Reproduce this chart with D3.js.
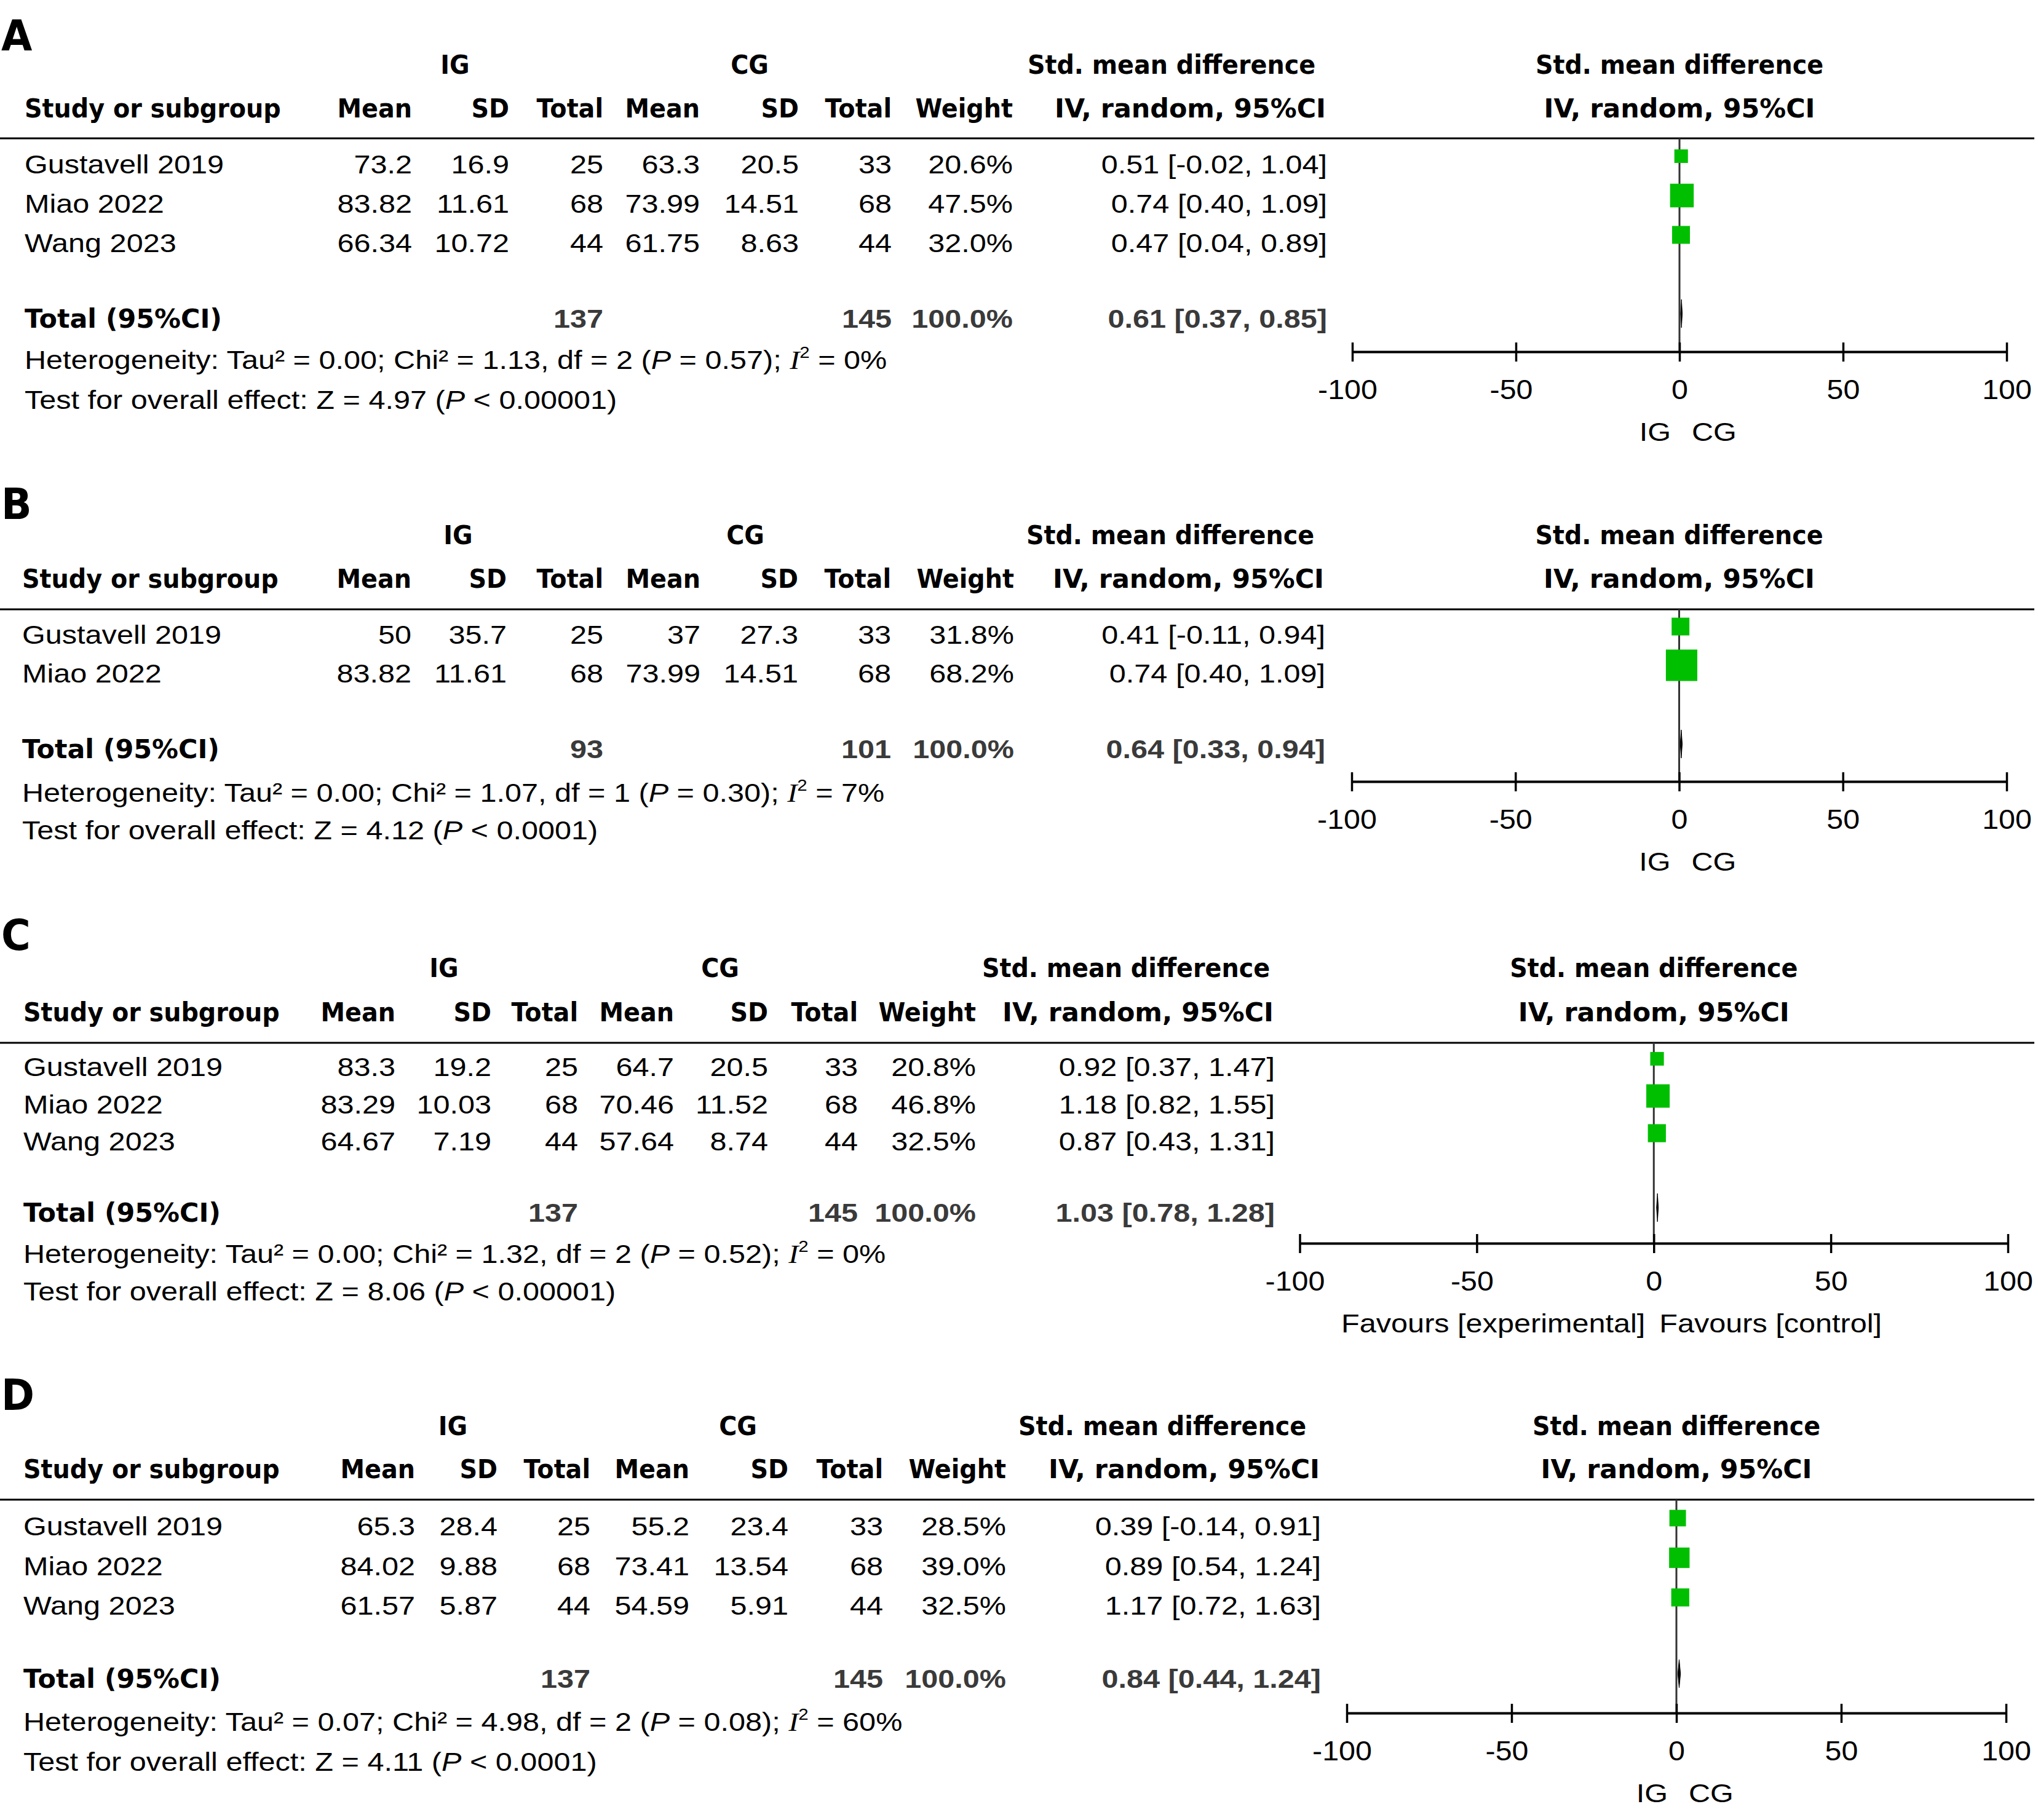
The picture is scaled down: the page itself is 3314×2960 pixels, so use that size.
<!DOCTYPE html>
<html><head><meta charset="utf-8">
<script src="https://cdn.jsdelivr.net/npm/d3@7"></script>
<style>html,body{margin:0;padding:0;background:#fff}</style>
</head><body>
<script>
// ================= DATA =================
const panelLetters = ["A", "B", "C", "D"];

const studyA = ["Gustavell 2019", "Miao 2022", "Wang 2023"];
const igMeanA = [73.2, 83.82, 66.34];
const igSdA = [16.9, 11.61, 10.72];
const igNA = [25, 68, 44];
const cgMeanA = [63.3, 73.99, 61.75];
const cgSdA = [20.5, 14.51, 8.63];
const cgNA = [33, 68, 44];
const weightA = [20.6, 47.5, 32.0];
const smdA = [0.51, 0.74, 0.47];
const smdLoA = [-0.02, 0.40, 0.04];
const smdHiA = [1.04, 1.09, 0.89];

const studyB = ["Gustavell 2019", "Miao 2022"];
const igMeanB = [50, 83.82];
const igSdB = [35.7, 11.61];
const igNB = [25, 68];
const cgMeanB = [37, 73.99];
const cgSdB = [27.3, 14.51];
const cgNB = [33, 68];
const weightB = [31.8, 68.2];
const smdB = [0.41, 0.74];
const smdLoB = [-0.11, 0.40];
const smdHiB = [0.94, 1.09];

const studyC = ["Gustavell 2019", "Miao 2022", "Wang 2023"];
const igMeanC = [83.3, 83.29, 64.67];
const igSdC = [19.2, 10.03, 7.19];
const igNC = [25, 68, 44];
const cgMeanC = [64.7, 70.46, 57.64];
const cgSdC = [20.5, 11.52, 8.74];
const cgNC = [33, 68, 44];
const weightC = [20.8, 46.8, 32.5];
const smdC = [0.92, 1.18, 0.87];
const smdLoC = [0.37, 0.82, 0.43];
const smdHiC = [1.47, 1.55, 1.31];

const studyD = ["Gustavell 2019", "Miao 2022", "Wang 2023"];
const igMeanD = [65.3, 84.02, 61.57];
const igSdD = [28.4, 9.88, 5.87];
const igND = [25, 68, 44];
const cgMeanD = [55.2, 73.41, 54.59];
const cgSdD = [23.4, 13.54, 5.91];
const cgND = [33, 68, 44];
const weightD = [28.5, 39.0, 32.5];
const smdD = [0.39, 0.89, 1.17];
const smdLoD = [-0.14, 0.54, 0.72];
const smdHiD = [0.91, 1.24, 1.63];

const totalIgN = [137, 93, 137, 137];
const totalCgN = [145, 101, 145, 145];
const totalWeight = [100.0, 100.0, 100.0, 100.0];
const totalSmd = [0.61, 0.64, 1.03, 0.84];
const totalLo = [0.37, 0.33, 0.78, 0.44];
const totalHi = [0.85, 0.94, 1.28, 1.24];
const tau2 = [0.00, 0.00, 0.00, 0.07];
const chi2 = [1.13, 1.07, 1.32, 4.98];
const dfs = [2, 1, 2, 2];
const hetP = [0.57, 0.30, 0.52, 0.08];
const i2 = [0, 7, 0, 60];
const zVal = [4.97, 4.12, 8.06, 4.11];
const zP = ["< 0.00001", "< 0.0001", "< 0.00001", "< 0.0001"];

const axisLabelLeft = ["IG", "IG", "Favours [experimental]", "IG"];
const axisLabelRight = ["CG", "CG", "Favours [control]", "CG"];
const tickValues = [-100, -50, 0, 50, 100];
const xDomain = [-100, 100];

const colHeaders = ["Mean", "SD", "Total", "Mean", "SD", "Total", "Weight"];

// ================= LAYOUT =================
const layout = [
  {letterY: 82, h1: 120, h2: 191, line: 225, row0: 282, step: 64, total: 533, het: 600, test: 665, axisY: 572, nameX: 40,
   cols: [668, 826, 979, 1136, 1297, 1448, 1645], ciR: 2156, igC: 740, cgC: 1219, smdC: 1905, axisX: [2199, 3263]},
  {letterY: 844, h1: 885, h2: 956, line: 991, row0: 1047, step: 63, total: 1233, het: 1304, test: 1365, axisY: 1271, nameX: 36,
   cols: [667, 822, 979, 1137, 1296, 1447, 1647], ciR: 2153, igC: 745, cgC: 1212, smdC: 1903, axisX: [2198, 3263]},
  {letterY: 1545, h1: 1589, h2: 1661, line: 1696, row0: 1750, step: 60.5, total: 1987, het: 2054, test: 2115, axisY: 2022, nameX: 38,
   cols: [641, 797, 938, 1094, 1247, 1393, 1585], ciR: 2071, igC: 722, cgC: 1171, smdC: 1831, axisX: [2113.5, 3265]},
  {letterY: 2293, h1: 2334, h2: 2404, line: 2439, row0: 2497, step: 64.5, total: 2745, het: 2815, test: 2880, axisY: 2786, nameX: 38,
   cols: [673, 807, 958, 1119, 1280, 1434, 1634], ciR: 2146, igC: 736.5, cgC: 1200, smdC: 1890, axisX: [2190, 3262]}
];

const panels = [
  {study: studyA, igMean: igMeanA, igSd: igSdA, igN: igNA, cgMean: cgMeanA, cgSd: cgSdA, cgN: cgNA, weight: weightA, smd: smdA, lo: smdLoA, hi: smdHiA},
  {study: studyB, igMean: igMeanB, igSd: igSdB, igN: igNB, cgMean: cgMeanB, cgSd: cgSdB, cgN: cgNB, weight: weightB, smd: smdB, lo: smdLoB, hi: smdHiB},
  {study: studyC, igMean: igMeanC, igSd: igSdC, igN: igNC, cgMean: cgMeanC, cgSd: cgSdC, cgN: cgNC, weight: weightC, smd: smdC, lo: smdLoC, hi: smdHiC},
  {study: studyD, igMean: igMeanD, igSd: igSdD, igN: igND, cgMean: cgMeanD, cgSd: cgSdD, cgN: cgND, weight: weightD, smd: smdD, lo: smdLoD, hi: smdHiD}
];

// ================= DRAW =================
const W = 3314, H = 2960;
const svg = d3.select("body").append("svg")
  .attr("width", W).attr("height", H).style("display", "block");
svg.append("rect").attr("width", W).attr("height", H).attr("fill", "#fff");

const FB = "'DejaVu Sans', Verdana, sans-serif";
const FR = "'Liberation Sans', Arial, sans-serif";
const FS = 43;
const SXR = 1.13;
const GREEN = "#00bf00";
const GRAY = "#3a3a3a";

function txt(g, x, y, s, o = {}) {
  return g.append("text")
    .attr("transform", `translate(${x},${y}) scale(${o.sx || SXR},1)`)
    .attr("text-anchor", o.anchor || "start")
    .attr("font-family", o.family || FR)
    .attr("font-size", o.size || FS)
    .attr("font-weight", o.weight || "normal")
    .attr("fill", o.fill || "#000")
    .text(s);
}
function head(g, x, y, s, anchor) {
  const sx = /\d/.test(s) ? 1.02 : 0.945;
  return txt(g, x, y, s, {family: FB, weight: "bold", size: 42, sx, anchor});
}
const f2 = d => d.toFixed(2);
const ciStr = (m, l, h) => `${f2(m)} [${f2(l)}, ${f2(h)}]`;

const sizeScale = d3.scaleLinear().domain([0, 100]).range([9.5, 70.5]);

panels.forEach((P, pi) => {
  const L = layout[pi];
  const g = svg.append("g");
  const x = d3.scaleLinear().domain(xDomain).range(L.axisX);
  const rowY = d3.scaleLinear().domain([0, 1]).range([L.row0, L.row0 + L.step]);
  const n = P.study.length;

  // panel letter
  txt(g, 2, L.letterY, panelLetters[pi], {family: FB, weight: "bold", size: 70, sx: 0.93});

  // header row 1
  head(g, L.igC, L.h1, "IG", "middle");
  head(g, L.cgC, L.h1, "CG", "middle");
  head(g, L.smdC, L.h1, "Std. mean difference", "middle");
  head(g, x(0), L.h1, "Std. mean difference", "middle");
  // header row 2
  head(g, L.nameX, L.h2, "Study or subgroup", "start");
  colHeaders.forEach((h, ci) => head(g, L.cols[ci] + 2, L.h2, h, "end"));
  head(g, L.ciR, L.h2, "IV, random, 95%CI", "end");
  head(g, x(0), L.h2, "IV, random, 95%CI", "middle");

  // header rule
  g.append("line").attr("x1", 0).attr("x2", 3308).attr("y1", L.line).attr("y2", L.line)
    .attr("stroke", "#000").attr("stroke-width", 3);

  // zero line
  g.append("line").attr("x1", x(0)).attr("x2", x(0)).attr("y1", L.line).attr("y2", L.axisY)
    .attr("stroke", "#333").attr("stroke-width", 3);

  // study rows
  d3.range(n).forEach(i => {
    const y = rowY(i);
    txt(g, L.nameX, y, P.study[i]);
    const vals = [String(P.igMean[i]), String(P.igSd[i]), String(P.igN[i]),
                  String(P.cgMean[i]), String(P.cgSd[i]), String(P.cgN[i]),
                  P.weight[i].toFixed(1) + "%"];
    vals.forEach((v, ci) => txt(g, L.cols[ci] + 2, y, v, {anchor: "end"}));
    txt(g, L.ciR + 2, y, ciStr(P.smd[i], P.lo[i], P.hi[i]), {anchor: "end"});
  });

  // CI whiskers and squares
  const cy = i => rowY(i) - 28;
  g.selectAll(".ci").data(d3.range(n)).join("line")
    .attr("x1", i => x(P.lo[i])).attr("x2", i => x(P.hi[i]))
    .attr("y1", cy).attr("y2", cy)
    .attr("stroke", "#000").attr("stroke-width", 3);
  g.selectAll(".sq").data(d3.range(n)).join("rect")
    .attr("x", i => x(P.smd[i]) - sizeScale(P.weight[i]) / 2)
    .attr("y", i => cy(i) - sizeScale(P.weight[i]) / 2)
    .attr("width", i => sizeScale(P.weight[i]))
    .attr("height", i => sizeScale(P.weight[i]))
    .attr("fill", GREEN);

  // total row
  head(g, L.nameX, L.total, "Total (95%CI)", "start");
  const bo = {anchor: "end", weight: "bold", fill: GRAY};
  txt(g, L.cols[2] + 2, L.total, String(totalIgN[pi]), bo);
  txt(g, L.cols[5] + 2, L.total, String(totalCgN[pi]), bo);
  txt(g, L.cols[6] + 2, L.total, totalWeight[pi].toFixed(1) + "%", bo);
  txt(g, L.ciR + 2, L.total, ciStr(totalSmd[pi], totalLo[pi], totalHi[pi]), bo);

  // diamond
  const dy = L.total - 23, dh = 23;
  g.append("path")
    .attr("d", `M${x(totalLo[pi])},${dy} L${x(totalSmd[pi])},${dy - dh} L${x(totalHi[pi])},${dy} L${x(totalSmd[pi])},${dy + dh} Z`)
    .attr("fill", "#000").attr("stroke", "#000").attr("stroke-width", 1);

  // heterogeneity
  const ht = txt(g, L.nameX, L.het, "");
  ht.append("tspan").text(`Heterogeneity: Tau\u00B2 = ${f2(tau2[pi])}; Chi\u00B2 = ${f2(chi2[pi])}, df = ${dfs[pi]} (`);
  ht.append("tspan").attr("font-style", "italic").text("P");
  ht.append("tspan").text(` = ${f2(hetP[pi])}); `);
  ht.append("tspan").attr("font-style", "italic").attr("font-family", "'Liberation Serif', serif").text("I");
  ht.append("tspan").attr("font-size", 26).attr("dy", -18).text("2");
  ht.append("tspan").attr("dy", 18).text(` = ${i2[pi]}%`);

  // overall effect
  const tt = txt(g, L.nameX, L.test, "");
  tt.append("tspan").text(`Test for overall effect: Z = ${f2(zVal[pi])} (`);
  tt.append("tspan").attr("font-style", "italic").text("P");
  tt.append("tspan").text(` ${zP[pi]})`);

  // x axis
  const ax = g.append("g").attr("transform", `translate(0,${L.axisY})`)
    .call(d3.axisBottom(x).tickValues(tickValues).tickFormat(d => String(d)).tickSizeOuter(0).tickSizeInner(16));
  ax.attr("font-family", null).attr("font-size", null);
  ax.select(".domain").attr("stroke", "#000").attr("stroke-width", 4);
  ax.selectAll(".tick line").attr("y1", -15).attr("y2", 16).attr("stroke", "#000").attr("stroke-width", 3.5);
  ax.selectAll(".tick text")
    .attr("y", null).attr("dy", null)
    .attr("transform", d => `translate(${d < 0 ? -8 : 0},77) scale(1.1,1)`)
    .attr("font-family", FR).attr("font-size", 44).attr("fill", "#000");

  // axis side labels
  const z = x(0);
  if (pi === 2) {
    txt(g, z - 14, L.axisY + 145, axisLabelLeft[pi], {anchor: "end"});
    txt(g, z + 9, L.axisY + 145, axisLabelRight[pi], {anchor: "start"});
  } else {
    txt(g, z - 14, L.axisY + 145, axisLabelLeft[pi], {anchor: "end"});
    txt(g, z + 20, L.axisY + 145, axisLabelRight[pi], {anchor: "start"});
  }
});
</script>
</body></html>
